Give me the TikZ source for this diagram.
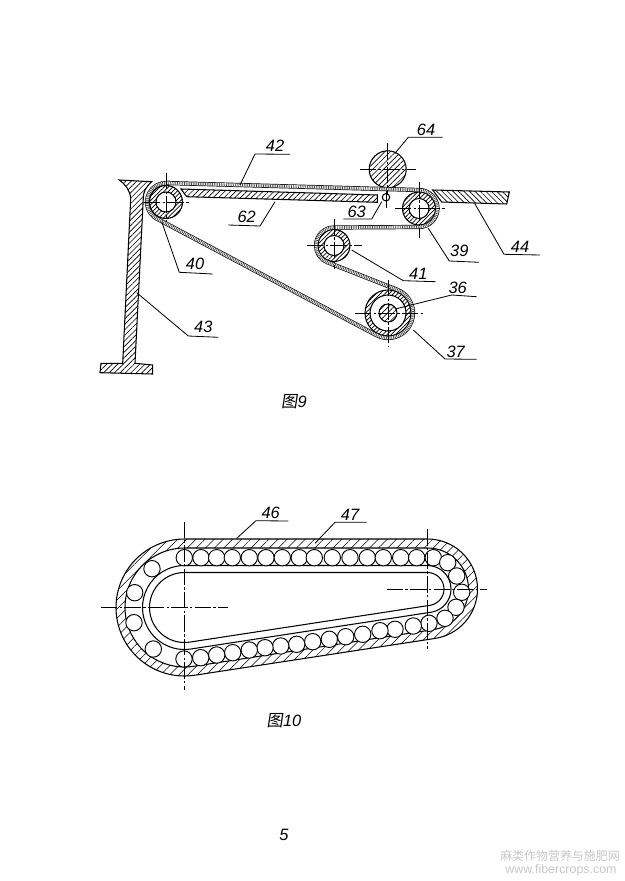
\documentclass[tikz,border=0pt]{standalone}
\usepackage{fontspec}
\setmainfont{Liberation Sans}
\newfontfamily\cjk[FakeSlant=0.15]{Noto Sans CJK SC}
\newfontfamily\markfont{Noto Sans CJK SC}
\usetikzlibrary{calc,patterns.meta}

\tikzset{
  part/.style={line width=.9pt},
  hatch/.style={part, pattern={Lines[angle=45,distance=3.3pt,line width=.55pt]}},
  hatch back/.style={part, pattern={Lines[angle=-45,distance=3.3pt,line width=.55pt]}},
  ring/.style={part, even odd rule, pattern={Lines[angle=45,distance=2.6pt,line width=.6pt]}},
  band/.style={part, even odd rule, pattern={Lines[angle=45,distance=5.5pt,line width=.45pt]}},
  belt/.style={line width=.6pt, double=white, double distance=2.4pt},
  belt core/.style={line width=2.4pt, dash pattern=on .6pt off .9pt, black!75},
  center mark/.style={line width=.5pt, dash pattern=on 14pt off 2pt on 2pt off 2pt},
  leader/.style={line width=.7pt},
  tag/.style={font=\fontsize{14}{16}\selectfont\itshape, inner sep=0pt},
  ball/.style={line width=.8pt, fill=white}
}

% outer radius at the big end, then at the small end
\newcommand{\trackloop}[2]{
  ($(small-end)+(-90:#2)$) arc[start angle=-90, end angle=81.3, radius=#2]
  -- ($(big-end)+(81.3:#1)$) arc[start angle=81.3, end angle=270, radius=#1] -- cycle
}
\newcommand{\beltpath}{
  (166.52,183.01) -- (419.51,190.01) arc[start angle=-88.42, end angle=89.67, radius=18.5]
  -- (333.9,227.5) arc[start angle=269.67, end angle=111.51, radius=18]
  -- (397.17,289.74) arc[start angle=-68.49, end angle=117.96, radius=25]
  -- (157.09,218.78) arc[start angle=117.96, end angle=271.58, radius=19] -- cycle
}

\begin{document}
\begin{tikzpicture}[x=0.3mm, y=-0.3mm]
\useasboundingbox (0,0) rectangle (625,881);

\coordinate (roller-40) at (166,202);
\coordinate (roller-39) at (419,208.5);
\coordinate (roller-41) at (334,245.5);
\coordinate (roller-37) at (388,313);
\coordinate (roller-64) at (387.7,169.3);
\coordinate (roller-63) at (386,197.3);
\coordinate (big-end) at (184.5,607.5);
\coordinate (small-end) at (427.5,589);

% column and plates
\draw [hatch] (119.3,180) -- (151.7,181.7) .. controls (145,188) and (143.5,192) .. (143.3,198)
  -- (135,363.3) -- (152.7,365) -- (152.7,374) -- (100,372.7) -- (101,363.3) -- (122.7,363.3)
  -- (130.7,198.3) .. controls (130,190) and (125,184) .. cycle;
\draw [hatch] (181,189) -- (377.3,195) -- (377.3,202.3) -- (186.7,196.7) -- cycle;
\draw [hatch back] (432.7,190) -- (509.3,192) -- (506.7,204) -- (441.7,202) -- cycle;

% rollers
\foreach \n/\r in {40/16.5, 39/16.5, 41/16}
  \draw [ring] (roller-\n) circle (10) (roller-\n) circle (\r);
\draw [ring] (roller-37) circle (18) (roller-37) circle (23);
\draw [hatch] (roller-37) circle (9);
\draw [hatch] (roller-64) circle (18.5);
\draw [part, fill=white] (roller-63) circle (3.7);

\draw [belt] \beltpath;
\draw [belt core] \beltpath;

% center marks of figure 9
\foreach \n/\a/\b/\c/\d in {40/22/24/29/20, 39/24/26/27/29, 41/27/28/27/23,
    37/33/35/33/34, 64/28/28/26/26}{
  \draw [center mark] ($(roller-\n)+(-\a,0)$) -- ($(roller-\n)+(\b,0)$);
  \draw [center mark] ($(roller-\n)+(0,-\c)$) -- ($(roller-\n)+(0,\d)$);
}
\draw [line width=.5pt] ($(roller-63)+(0,-6)$) -- ($(roller-63)+(0,11)$);

% figure 10
\draw [band] \trackloop{68.5}{50} \trackloop{59.5}{41};
\draw [part] \trackloop{42}{23.5};
\draw [part] \trackloop{35}{16.5};

\foreach \x/\y [count=\i] in {184.3/557.7, 201/557.7, 216.7/557.7, 232.3/557.7, 249.3/557.7,
    266/557.7, 282.3/557.7, 299.3/557.7, 314.3/557.7, 332.3/557.7, 350/557.7, 367.3/557.7,
    383.3/557.7, 400.7/557.7, 416.7/557.7, 433.3/557.7, 447.7/562.7, 456.7/576, 461.7/592.3,
    456/607.3, 445/618.3, 429/623.3, 413.3/626, 395/629.3, 380/630.7, 362.7/634.3, 345.7/636.7,
    329.3/639.3, 312.7/641.7, 296.7/644.3, 280.7/646, 265/647.7, 249.3/650, 232.7/652.7,
    216.7/655, 200.7/657.7, 184/659, 153.3/649, 134/622.7, 134.7/592.7, 152/568.7}
  \draw [ball] (\x,\y) circle (8.2);

\draw [center mark] (101,607.5) -- (228,607.5);
\draw [center mark] (184.5,521.7) -- (184.5,690);
\draw [center mark] (386.7,589) -- (487.3,589);
\draw [center mark] (427.5,529.3) -- (427.5,649.3);

% leaders with their labels
\foreach \n/\ax/\ay/\bx/\by/\cx/\cy/\tx/\ty in {
    42/240/185/255/154/290/154.3/275/145.7,
    62/275/201.7/260/226/228.3/225/246.7/216.7,
    40/161.7/221.7/179.3/272.3/212.7/274/195/264.3,
    43/136.7/292.7/188.3/336/218.3/337.3/203.3/327.3,
    64/395/153.3/408.3/137.3/442.7/137.3/426/130,
    63/381.7/201.7/371.7/219/343.3/219/356.7/211.7,
    44/475/204/504/254.3/540/255/520/247.3,
    39/428.3/228.3/449.3/261/479/262.3/459.3/251,
    41/351.7/250/403.3/280.7/435.7/281.7/418.3/274,
    36/395/309/451.7/295/476.7/296.7/457.7/287.7,
    37/413.3/330/445/359/476.7/359.3/455.7/351.7,
    46/236.7/538.3/256/520.7/288.3/521/270.7/513.3,
    47/315/543.3/335/522.3/366.7/522.3/350/515}{
  \coordinate (tip-\n) at (\ax,\ay);
  \coordinate (knee-\n) at (\bx,\by);
  \coordinate (end-\n) at (\cx,\cy);
  \draw [leader] (tip-\n) -- (knee-\n) -- (end-\n);
  \node [tag] (label-\n) at (\tx,\ty) {\n};
}

\node [tag] (title-9) at (294,402) {{\cjk 图}9};
\node [tag] (title-10) at (284,721) {{\cjk 图}10};
\node [tag] (page-no) at (284,835) {5};

\node [inner sep=0pt, text=black!22, font=\markfont\fontsize{10.2}{12}\selectfont] (mark-cn) at (560,856) {麻类作物营养与施肥网};
\node [inner sep=0pt, text=black!22, font=\fontsize{10.6}{12}\selectfont] (mark-en) at (561,870) {www.fibercrops.com};
\end{tikzpicture}
\end{document}
